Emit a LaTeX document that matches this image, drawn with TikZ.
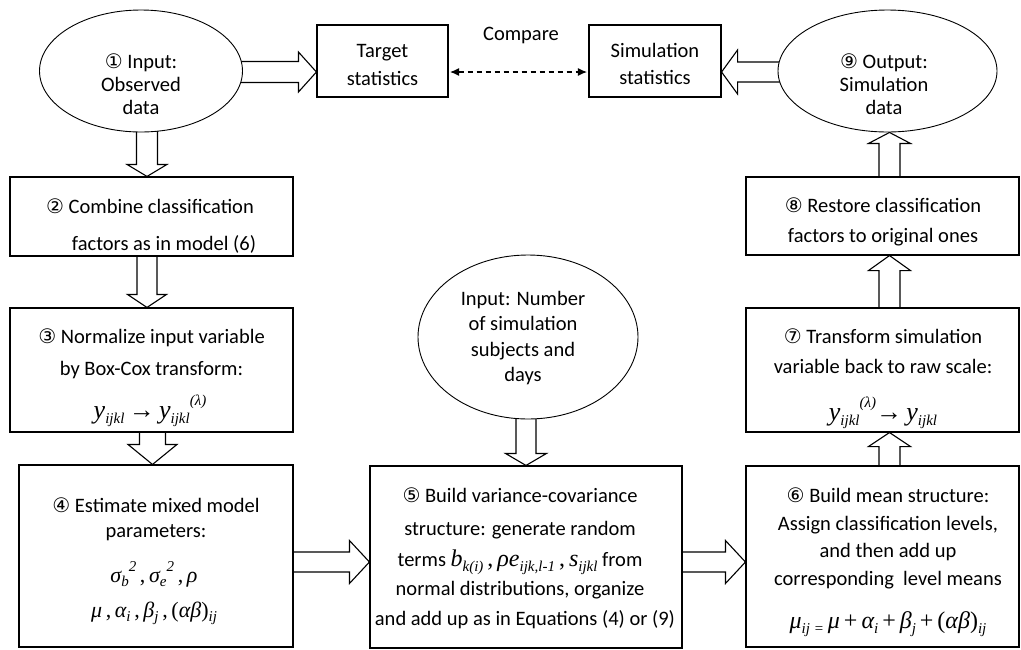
\documentclass[tikz,border=0pt]{standalone}
\usepackage{fontspec}
\setmainfont{Carlito}
\newfontfamily\cf{DejaVu Sans}
\newfontfamily\mf{Liberation Serif}
\usetikzlibrary{calc,arrows.meta,shapes.geometric}
\pgfdeclarelayer{background}
\pgfsetlayers{background,main}
\newcommand\mysub[2][15]{\raisebox{-0.22em}{\fontsize{#1}{#1}\selectfont\mf\itshape #2}}
\newcommand\mysup[2][15]{\raisebox{0.5em}{\fontsize{#1}{#1}\selectfont\mf\itshape #2}}
\newcommand\cn[1]{{\cf\fontsize{20}{20}\selectfont #1}}
\newcommand\fml[1]{\mf\itshape\fontsize{#1}{#1}\selectfont}
% #1 start, #2 tip, #3 shaft half width, #4 head half width, #5 head length
\newcommand\barrow[5]{%
  \coordinate (hb) at ($(#2)!#5!(#1)$);
  \draw[blk] ($(#1)!#3!90:(#2)$) -- ($(hb)!#3!90:(#2)$) -- ($(hb)!#4!90:(#2)$)
    -- (#2) -- ($(hb)!#4!-90:(#2)$) -- ($(hb)!#3!-90:(#2)$) -- ($(#1)!#3!-90:(#2)$);
}
\begin{document}
\begin{tikzpicture}[x=1pt,y=-1pt,
  box/.style={draw, line width=1.1pt, fill=white, inner sep=0pt},
  ell/.style={draw, ellipse, line width=0.9pt, fill=white, inner sep=0pt},
  txt/.style={anchor=base, inner sep=0pt, font=\fontsize{20.5}{24}\selectfont},
  blk/.style={line width=1.1pt, line join=miter}]
\useasboundingbox (0,0) rectangle (1021,649);

% shapes
\node[ell, minimum width=203pt, minimum height=122pt] (e1) at (141,71) {};
\node[ell, minimum width=219pt, minimum height=122pt] (e9) at (887.5,71) {};
\node[ell, minimum width=220pt, minimum height=164pt] (e0) at (528,337) {};
\node[box, minimum width=131pt, minimum height=72pt] (tgt) at (382.5,61) {};
\node[box, minimum width=132pt, minimum height=72pt] (sim) at (655,61) {};
\node[box, minimum width=283pt, minimum height=79pt] (b2) at (151.5,216.5) {};
\node[box, minimum width=283pt, minimum height=124pt] (b3) at (151.5,370) {};
\node[box, minimum width=274pt, minimum height=182pt] (b4) at (156,556) {};
\node[box, minimum width=312pt, minimum height=182pt] (b5) at (526,557) {};
\node[box, minimum width=273pt, minimum height=181pt] (b6) at (882.5,556.5) {};
\node[box, minimum width=273pt, minimum height=124pt] (b7) at (882.5,370) {};
\node[box, minimum width=273pt, minimum height=78pt] (b8) at (882.5,216) {};

% block arrows
\begin{pgfonlayer}{background}
\barrow{$(e1.east)+(-5,1)$}{$(tgt.west)+(0,11)$}{10.5pt}{20pt}{18pt}
\barrow{$(e9.west)+(5,1)$}{$(sim.east)+(0,11)$}{10pt}{22pt}{16pt}
\barrow{$(e1.south)+(6,-5)$}{$(b2.north)+(-4.5,0)$}{10.5pt}{20pt}{12pt}
\barrow{$(b2.south)+(-4.5,0)$}{$(b3.north)+(-4.5,0)$}{10pt}{19.5pt}{13pt}
\barrow{$(b3.south)+(1,0)$}{$(b4.north)+(-3.5,0)$}{13pt}{24.5pt}{20pt}
\barrow{$(e0.south)+(-2,-5)$}{$(b5.north)$}{10pt}{20.5pt}{12pt}
\barrow{$(b4.east)+(0,6)$}{$(b5.west)+(0,5)$}{10pt}{21.5pt}{20pt}
\barrow{$(b5.east)+(0,5)$}{$(b6.west)+(0,5.5)$}{10pt}{21.5pt}{20pt}
\barrow{$(b6.north)+(7,0)$}{$(b7.south)+(7,0)$}{10.5pt}{21pt}{14pt}
\barrow{$(b7.north)+(7,0)$}{$(b8.south)+(7,0)$}{10.5pt}{21pt}{15pt}
\barrow{$(b8.north)+(7,0)$}{$(e9.south)+(2,0)$}{10.5pt}{21pt}{11pt}
\end{pgfonlayer}

% compare
\draw[line width=1.1pt, dash pattern=on 5pt off 4pt,
  {Latex[length=9pt,width=8pt]}-{Latex[length=9pt,width=8pt]}]
  ($(tgt.east)+(1.5,11)$) -- ($(sim.west)+(-1.5,11)$);
\node[txt] (cmp) at (521,40) {Compare};

% texts
\node[txt] (e1a) at (141,68) {\cn{①} Input:};
\node[txt] (e1b) at (141,91) {Observed};
\node[txt] (e1c) at (141,114) {data};
\node[txt] (e9a) at (884,68) {\cn{⑨} Output:};
\node[txt] (e9b) at (884,91) {Simulation};
\node[txt] (e9c) at (884,114) {data};
\node[txt] (tgta) at (382.5,57) {Target};
\node[txt] (tgtb) at (382.5,85) {statistics};
\node[txt] (sima) at (655,57) {Simulation};
\node[txt] (simb) at (655,84) {statistics};

\node[txt] (b2a) at (150,213) {\cn{②} Combine classification};
\node[txt] (b2b) at (150,250) {\hspace*{28pt}factors as in model (6)};

\node[txt] (b3a) at (151.5,343) {\cn{③} Normalize input variable};
\node[txt] (b3b) at (151.5,375) {by Box-Cox transform:};
\node[txt] (b3c) at (150,418) {\fml{26}y\mysub{ijkl}\,{\upshape→}\,y\mysub{ijkl}\mysup{(λ)}};

\node[txt] (b4a) at (156,512) {\cn{④} Estimate mixed model};
\node[txt] (b4b) at (156,537) {parameters:};
\node[txt] (b4c) at (154,582) {\fml{22}σ\mysub{b}\mysup{2}\,{\upshape,}\,σ\mysub{e}\mysup{2}\,{\upshape,}\,ρ};
\node[txt] (b4d) at (154,617) {\fml{22}μ\,{\upshape,}\,α\mysub{i}\,{\upshape,}\,β\mysub{j}\,{\upshape,}\,{\upshape(}αβ{\upshape)}\mysub{ij}};

\node[txt] (e0a) at (523,305) {Input: Number};
\node[txt] (e0b) at (523,330.5) {of simulation};
\node[txt] (e0c) at (523,356) {subjects and};
\node[txt] (e0d) at (523,381.5) {days};

\node[txt] (b5a) at (520,502) {\cn{⑤} Build variance-covariance};
\node[txt] (b5b) at (520,535) {structure: generate random};
\node[txt] (b5c) at (520,566) {terms {\fml{24}b\mysub{k(i)}\,{\upshape,}\,ρe\mysub{ijk,l-1}\,{\upshape,}\,s\mysub{ijkl}} from};
\node[txt] (b5d) at (520,595) {normal distributions, organize};
\node[txt] (b5e) at (525,625) {and add up as in Equations (4) or (9)};

\node[txt] (b6a) at (888,502) {\cn{⑥} Build mean structure:};
\node[txt] (b6b) at (888,530) {Assign classification levels,};
\node[txt] (b6c) at (888,557) {and then add up};
\node[txt] (b6d) at (888,585) {corresponding\ \ level means};
\node[txt] (b6e) at (888,628) {\fml{24}μ\mysub{ij =}\,μ\,{\upshape+}\,α\mysub{i}\,{\upshape+}\,β\mysub{j}\,{\upshape+}\,{\upshape(}αβ{\upshape)}\mysub{ij}};

\node[txt] (b7a) at (883,343) {\cn{⑦} Transform simulation};
\node[txt] (b7b) at (883,373) {variable back to raw scale:};
\node[txt] (b7c) at (883,420) {\fml{26}y\mysub{ijkl}\mysup{(λ)}{\upshape→}\,y\mysub{ijkl}};

\node[txt] (b8a) at (883,212) {\cn{⑧} Restore classification};
\node[txt] (b8b) at (883,242) {factors to original ones};
\end{tikzpicture}
\end{document}
